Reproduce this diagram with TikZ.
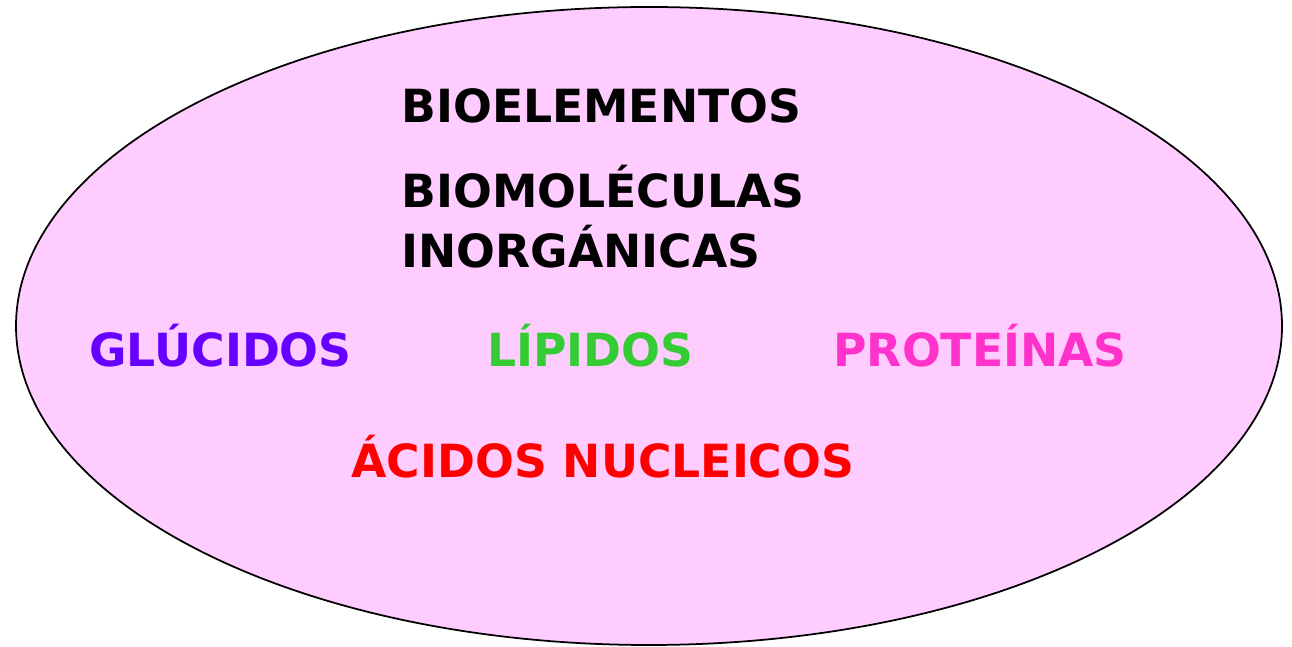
\documentclass[tikz,border=0pt]{standalone}
\usepackage{fontspec}
\setmainfont{DejaVu Sans}
\usepackage{xcolor}
\definecolor{fondo}{HTML}{FFCCFF}
\definecolor{morado}{HTML}{6600FF}
\definecolor{verde}{HTML}{33CC33}
\definecolor{rosa}{HTML}{FF33CC}
\definecolor{rojo}{HTML}{FF0000}
\tikzset{
  rotulo/.style={anchor=base west,inner sep=0pt,font=\bfseries\fontsize{26}{30}\selectfont}
}

\begin{document}
\begin{tikzpicture}[line cap=round,line join=round,x=1cm,y=1cm]
\useasboundingbox (0,0) rectangle (25.84,12.94);
\draw [line width=1pt,fill=fondo] (12.98,6.42) ellipse (12.66 and 6.38);
\node[rotulo] (bioel) at (8.02,10.48) {BIOELEMENTOS};
\node[rotulo] (biomol) at (8.02,8.78) {BIOMOLÉCULAS};
\node[rotulo] (inorg) at (8.02,7.58) {INORGÁNICAS};
\node[rotulo,color=morado] (gluc) at (1.78,5.60) {GLÚCIDOS};
\node[rotulo,color=verde] (lip) at (9.74,5.60) {LÍPIDOS};
\node[rotulo,color=rosa] (prot) at (16.66,5.60) {PROTEÍNAS};
\node[rotulo,color=rojo] (acid) at (7.02,3.38) {ÁCIDOS NUCLEICOS};
\end{tikzpicture}
\end{document}
